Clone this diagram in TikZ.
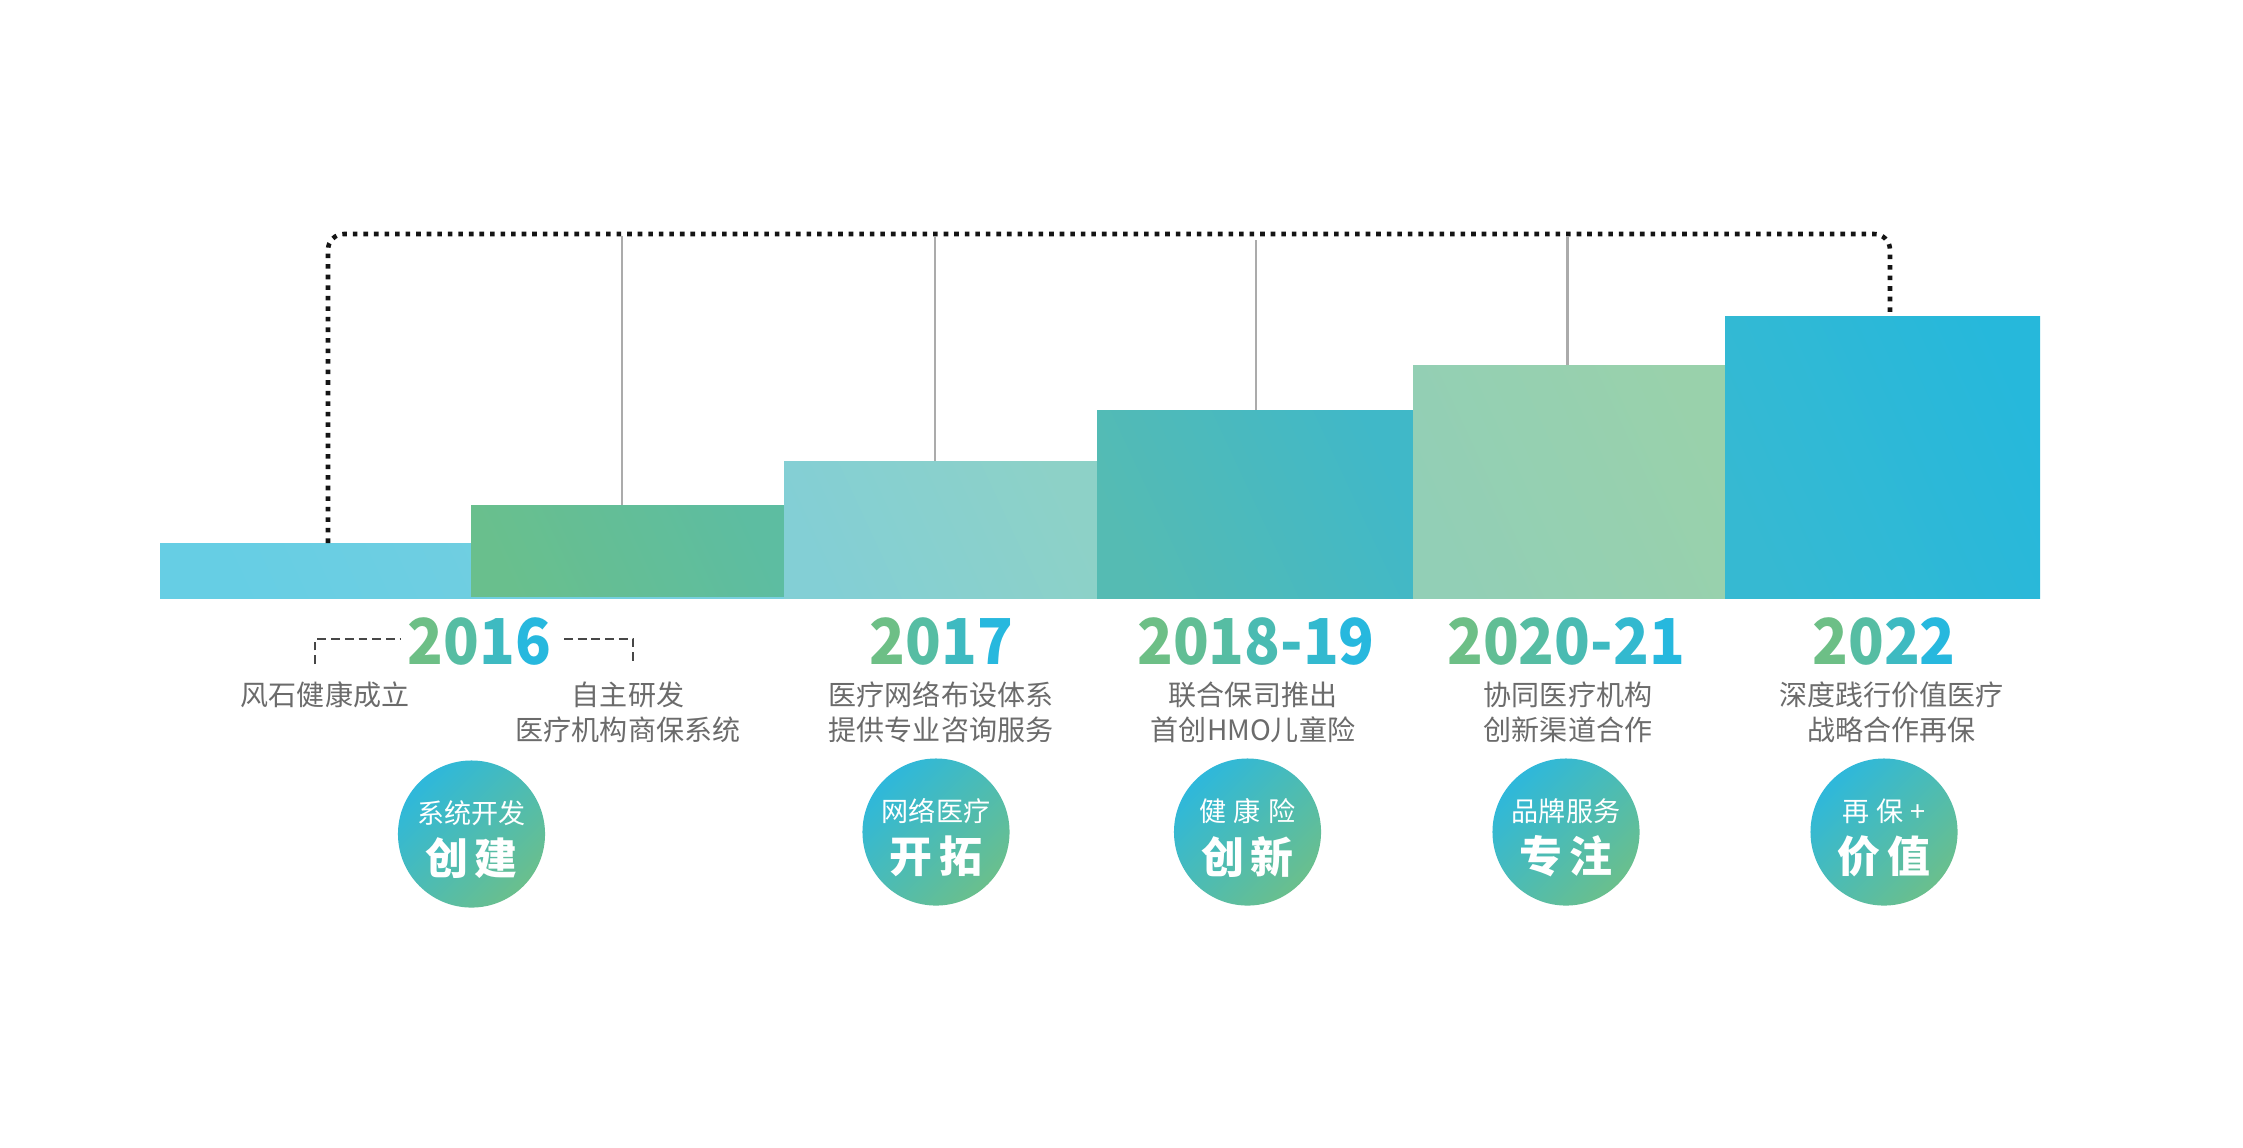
\documentclass[tikz,border=0pt]{standalone}
\usepackage{fontspec}
\newfontfamily\cjk{Noto Sans CJK SC}
\newfontfamily\cjknar[FakeStretch=0.93]{Noto Sans CJK SC}
\usetikzlibrary{calc}
\definecolor{txtgray}{HTML}{6B6B6B}
\definecolor{ygr}{HTML}{6DBF86}
\definecolor{ycy}{HTML}{27B8DE}
\definecolor{cirA}{HTML}{2EB8DB}
\definecolor{cirB}{HTML}{6ABF8D}
\definecolor{bOneA}{HTML}{66CEE4}\definecolor{bOneB}{HTML}{78CFDE}
\definecolor{bTwoA}{HTML}{69BF8D}\definecolor{bTwoB}{HTML}{5DBDA1}
\definecolor{bThrA}{HTML}{83CFD5}\definecolor{bThrB}{HTML}{8DD1C7}
\definecolor{bFouA}{HTML}{55BBB3}\definecolor{bFouB}{HTML}{40B8C8}
\definecolor{bFivA}{HTML}{92CFB6}\definecolor{bFivB}{HTML}{99D1AB}
\definecolor{bSixA}{HTML}{36B9D2}\definecolor{bSixB}{HTML}{26B8DB}
\newcommand\yc[2]{\textcolor{ycy!#1!ygr}{#2}}
\tikzset{
  bar/.style={anchor=north west, inner sep=0pt, outer sep=0pt},
  barshade/.style 2 args={left color=#1, right color=#2, shading angle=115},
  yearlbl/.style={font=\cjknar\bfseries\fontsize{18pt}{20pt}\selectfont, inner sep=0pt},
  desc/.style={font=\cjk\fontsize{7.97pt}{9.96pt}\selectfont, text=txtgray, align=center, inner sep=0pt},
  badge/.style={circle, minimum size=1.47cm, inner sep=0pt, top color=cirA, bottom color=cirB, shading angle=45},
  btop/.style={font=\cjk\fontsize{7.7pt}{9pt}\selectfont, text=white, inner sep=0pt},
  bbot/.style={font=\cjk\bfseries\fontsize{12.2pt}{14pt}\selectfont, text=white, inner sep=0pt},
  dotline/.style={line width=1.3pt, dash pattern=on 1.3pt off 1.7pt, color=black!92, rounded corners=4.5pt},
  gline/.style={line width=0.6pt, color=black!33},
  bracket/.style={line width=0.45pt, dash pattern=on 2.5pt off 1.4pt, color=black!72},
}
\begin{document}
\begin{tikzpicture}[x=0.01cm, y=-0.01cm]
\fill[white] (0,0) rectangle (2243,1147);
\useasboundingbox (0,0) rectangle (2243,1147);

% bars
\node[bar, minimum width=6.26cm, minimum height=0.55cm, barshade={bOneA}{bOneB}] (b1) at (160,543) {};
\node[bar, minimum width=3.15cm, minimum height=0.91cm, barshade={bTwoA}{bTwoB}] (b2) at (471,505) {};
\node[bar, minimum width=3.13cm, minimum height=1.37cm, barshade={bThrA}{bThrB}] (b3) at (784,461) {};
\node[bar, minimum width=3.16cm, minimum height=1.88cm, barshade={bFouA}{bFouB}] (b4) at (1097,410) {};
\node[bar, minimum width=3.12cm, minimum height=2.33cm, barshade={bFivA}{bFivB}] (b5) at (1413,365) {};
\node[bar, minimum width=3.15cm, minimum height=2.82cm, barshade={bSixA}{bSixB}] (b6) at (1725,316) {};

% dotted frame
\coordinate (dl) at (328,234);
\coordinate (dr) at (1890,234);
\draw[dotline] (b1.north west -| dl) -- (dl) -- (dr) -- (b6.north west -| dr);

% gray connectors
\coordinate (t2) at (622,236);
\coordinate (t3) at (935,236);
\coordinate (t4) at (1256,240);
\coordinate (t5) at (1567.5,236);
\draw[gline] (t2) -- (t2 |- b2.north);
\draw[gline] (t3) -- (t3 |- b3.north);
\draw[gline] (t4) -- (t4 |- b4.north);
\draw[gline] (t5) -- (t5 |- b5.north);

% years
\node[yearlbl] (y1) at (479.5,641) {\yc{0}{2}\yc{33}{0}\yc{67}{1}\yc{100}{6}};
\node[yearlbl] (y2) at (941.5,641) {\yc{0}{2}\yc{33}{0}\yc{67}{1}\yc{100}{7}};
\node[yearlbl] (y3) at (1256,641) {\yc{0}{2}\yc{17}{0}\yc{33}{1}\yc{50}{8}\yc{67}{-}\yc{83}{1}\yc{100}{9}};
\node[yearlbl] (y4) at (1566,641) {\yc{0}{2}\yc{17}{0}\yc{33}{2}\yc{50}{0}\yc{67}{-}\yc{83}{2}\yc{100}{1}};
\node[yearlbl] (y5) at (1884,641) {\yc{0}{2}\yc{33}{0}\yc{67}{2}\yc{100}{2}};

% dashed brackets around 2016
\coordinate (bl1) at (315,664);
\coordinate (bl2) at (315,639);
\coordinate (bl3) at (400,639);
\coordinate (br1) at (564,639);
\coordinate (br2) at (633,639);
\coordinate (br3) at (633,664);
\draw[bracket] (bl1) -- (bl2) -- (bl3);
\draw[bracket] (br1) -- (br2) -- (br3);

% descriptions
\node[desc] (d1a) at (325,695) {风石健康成立};
\node[desc] (d1b) at (628,712.5) {自主研发\\医疗机构商保系统};
\node[desc] (d2) at (941,712.5) {医疗网络布设体系\\提供专业咨询服务};
\node[desc] (d3) at (1253,712.5) {联合保司推出\\首创HMO儿童险};
\node[desc] (d4) at (1568,712.5) {协同医疗机构\\创新渠道合作};
\node[desc] (d5) at (1891.5,712.5) {深度践行价值医疗\\战略合作再保};

% badges
\node[badge] (c1) at (471.5,834) {};
\node[badge] (c2) at (936,832) {};
\node[badge] (c3) at (1247.5,832) {};
\node[badge] (c4) at (1566,832) {};
\node[badge] (c5) at (1884,832) {};

\node[btop] (c1t) at ($(c1.center)+(0,-21)$) {系统开发};
\node[bbot] (c1b) at ($(c1.center)+(0,24.5)$) {创\hspace{2pt}建};
\node[btop] (c2t) at ($(c2.center)+(0,-21)$) {网络医疗};
\node[bbot] (c2b) at ($(c2.center)+(0,24.5)$) {开\hspace{2pt}拓};
\node[btop] (c3t) at ($(c3.center)+(0,-21)$) {健\hspace{2pt}康\hspace{2pt}险};
\node[bbot] (c3b) at ($(c3.center)+(0,24.5)$) {创\hspace{2pt}新};
\node[btop] (c4t) at ($(c4.center)+(0,-21)$) {品牌服务};
\node[bbot] (c4b) at ($(c4.center)+(0,24.5)$) {专\hspace{2pt}注};
\node[btop] (c5t) at ($(c5.center)+(0,-21)$) {再\hspace{2pt}保\hspace{2pt}+};
\node[bbot] (c5b) at ($(c5.center)+(0,24.5)$) {价\hspace{2pt}值};
\end{tikzpicture}
\end{document}
